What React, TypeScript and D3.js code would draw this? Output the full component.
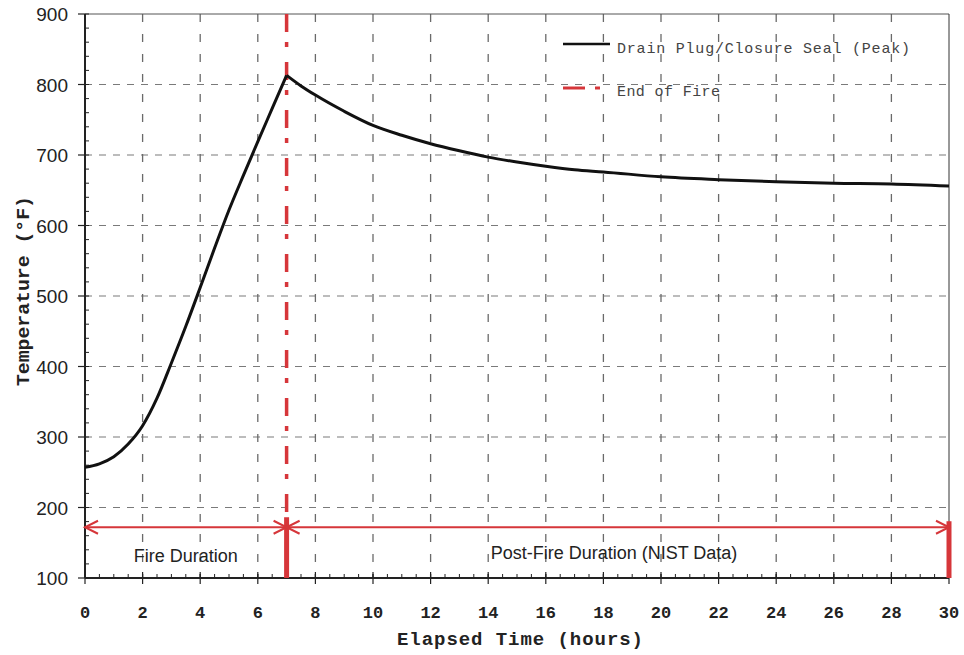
import React from "react";
import * as d3 from "d3";

const hours = [0, 0.5, 1, 1.5, 2, 2.5, 3, 3.5, 4, 4.5, 5, 5.5, 6, 6.5, 7, 7.5, 8, 9, 10, 11, 12, 13, 14, 15, 16, 17, 18, 20, 22, 24, 26, 28, 30];
const temps = [257, 262, 272, 290, 316, 355, 405, 457, 512, 568, 622, 671, 719, 766, 813, 798, 785, 762, 742, 728, 716, 706, 697, 690, 684, 679, 676, 669, 665, 662, 660, 659, 656];
const endOfFire = 7;
const endTime = 30;
const durationLevel = 172;
const seriesLabels = ["Drain Plug/Closure Seal (Peak)", "End of Fire"];
const spanLabels = ["Fire Duration", "Post-Fire Duration (NIST Data)"];
const xTitle = "Elapsed Time (hours)";
const yTitle = "Temperature (°F)";

const W = 964, H = 655;
const L = 85, R = 949, T = 14, B = 578;
const RED = "#d6363a";
const MONO = "'Liberation Mono', 'DejaVu Sans Mono', monospace";
const SANS = "'Liberation Sans', Arial, sans-serif";

export default function App() {
  const x = d3.scaleLinear().domain([0, 30]).range([L, R]);
  const y = d3.scaleLinear().domain([100, 900]).range([B, T]);
  const pts = hours.map((h, i) => ({ h, t: temps[i] }));
  const rise = pts.filter((p) => p.h <= endOfFire);
  const fall = pts.filter((p) => p.h >= endOfFire);
  const line = d3
    .line<{ h: number; t: number }>()
    .x((d) => x(d.h))
    .y((d) => y(d.t))
    .curve(d3.curveMonotoneX);

  const xMajor = x.ticks(15);
  const yMajor = y.ticks(8);
  const xMinor = d3.range(0, 30.001, 0.5);
  const yMinor = d3.range(100, 900.001, 20);

  const ay = y(durationLevel);
  const xe = x(endOfFire);
  const x0 = x(0);
  const x30 = x(endTime);
  const head = (tx: number, dir: number) =>
    `M${tx - dir * 13},${ay - 6.5} L${tx},${ay} L${tx - dir * 13},${ay + 6.5}`;

  return (
    <svg width={W} height={H} style={{ position: "absolute", left: 0, top: 0, background: "#fff" }}>
      <rect width={W} height={H} fill="#fff" />
      {/* grid */}
      {yMajor.filter((v) => v > 100 && v < 900).map((v) => (
        <line key={"gy" + v} x1={L} x2={R} y1={y(v)} y2={y(v)} stroke="#7a7a7a" strokeWidth={1.2} strokeDasharray="7,7" />
      ))}
      {xMajor.filter((v) => v > 0 && v < 30).map((v) => (
        <line key={"gx" + v} x1={x(v)} x2={x(v)} y1={T} y2={B} stroke="#6a6a6a" strokeWidth={1.3} strokeDasharray="8,12" />
      ))}
      {/* frame */}
      <line x1={L} x2={R} y1={T} y2={T} stroke="#555" strokeWidth={1} />
      <line x1={R} x2={R} y1={T} y2={B} stroke="#333" strokeWidth={1} />
      <line x1={L} x2={L} y1={T} y2={B} stroke="#222" strokeWidth={2} />
      <line x1={L} x2={R} y1={B} y2={B} stroke="#222" strokeWidth={2} />
      {/* ticks */}
      {yMinor.map((v) => (
        <line key={"ym" + v} x1={L} x2={L + 4} y1={y(v)} y2={y(v)} stroke="#222" strokeWidth={1} />
      ))}
      {yMajor.map((v) => (
        <line key={"yM" + v} x1={L - 7} x2={L} y1={y(v)} y2={y(v)} stroke="#222" strokeWidth={1.2} />
      ))}
      {xMinor.map((v) => (
        <line key={"xm" + v} x1={x(v)} x2={x(v)} y1={B - 4} y2={B} stroke="#222" strokeWidth={1} />
      ))}
      {xMajor.map((v) => (
        <line key={"xM" + v} x1={x(v)} x2={x(v)} y1={B - 6} y2={B + 6} stroke="#222" strokeWidth={1.2} />
      ))}
      {/* tick labels */}
      {yMajor.map((v) => (
        <text key={"yl" + v} x={68} y={y(v) + 7} textAnchor="end" fontFamily={SANS} fontSize={19} fill="#222">
          {v}
        </text>
      ))}
      {xMajor.map((v) => (
        <text key={"xl" + v} x={x(v)} y={618} textAnchor="middle" fontFamily={MONO} fontWeight="bold" fontSize={17} fill="#222">
          {v}
        </text>
      ))}
      {/* axis titles */}
      <text x={520} y={645} textAnchor="middle" fontFamily={MONO} fontWeight="bold" fontSize={19} fill="#222" textLength={246} lengthAdjust="spacing">
        {xTitle}
      </text>
      <text transform={`translate(29,${291}) rotate(-90)`} textAnchor="middle" fontFamily={MONO} fontWeight="bold" fontSize={18} fill="#222" textLength={190} lengthAdjust="spacingAndGlyphs">
        {yTitle}
      </text>
      {/* end of fire line */}
      <line x1={xe} x2={xe} y1={T} y2={B} stroke={RED} strokeWidth={3.5} strokeDasharray="18,10,5,15" />
      <line x1={xe} x2={xe} y1={ay - 10} y2={B} stroke={RED} strokeWidth={5} />
      <line x1={x30} x2={x30} y1={ay - 6} y2={B} stroke={RED} strokeWidth={5} />
      {/* duration arrows */}
      <line x1={x0} x2={x30} y1={ay} y2={ay} stroke={RED} strokeWidth={2} />
      <path d={head(x0, -1)} fill="none" stroke={RED} strokeWidth={2} />
      <path d={head(xe, 1)} fill="none" stroke={RED} strokeWidth={2} />
      <path d={head(xe, -1)} fill="none" stroke={RED} strokeWidth={2} />
      <path d={head(x30, 1)} fill="none" stroke={RED} strokeWidth={2} />
      <text x={(x0 + xe) / 2} y={562} textAnchor="middle" fontFamily={SANS} fontSize={18} fill="#222">
        {spanLabels[0]}
      </text>
      <text x={614} y={559} textAnchor="middle" fontFamily={SANS} fontSize={18} fill="#222">
        {spanLabels[1]}
      </text>
      {/* curve */}
      <path d={line(rise) || ""} fill="none" stroke="#111" strokeWidth={3} strokeLinejoin="round" />
      <path d={line(fall) || ""} fill="none" stroke="#111" strokeWidth={3} strokeLinejoin="round" />
      {/* legend */}
      <line x1={563} x2={610} y1={44} y2={44} stroke="#111" strokeWidth={2.5} />
      <text x={617} y={53} fontFamily={MONO} fontSize={15} fill="#444" textLength={293} lengthAdjust="spacing">
        {seriesLabels[0]}
      </text>
      <line x1={563} x2={585} y1={88} y2={88} stroke={RED} strokeWidth={3} />
      <line x1={595} x2={600} y1={88} y2={88} stroke={RED} strokeWidth={3} />
      <text x={617} y={96} fontFamily={MONO} fontSize={15} fill="#444" textLength={103} lengthAdjust="spacing">
        {seriesLabels[1]}
      </text>
    </svg>
  );
}
